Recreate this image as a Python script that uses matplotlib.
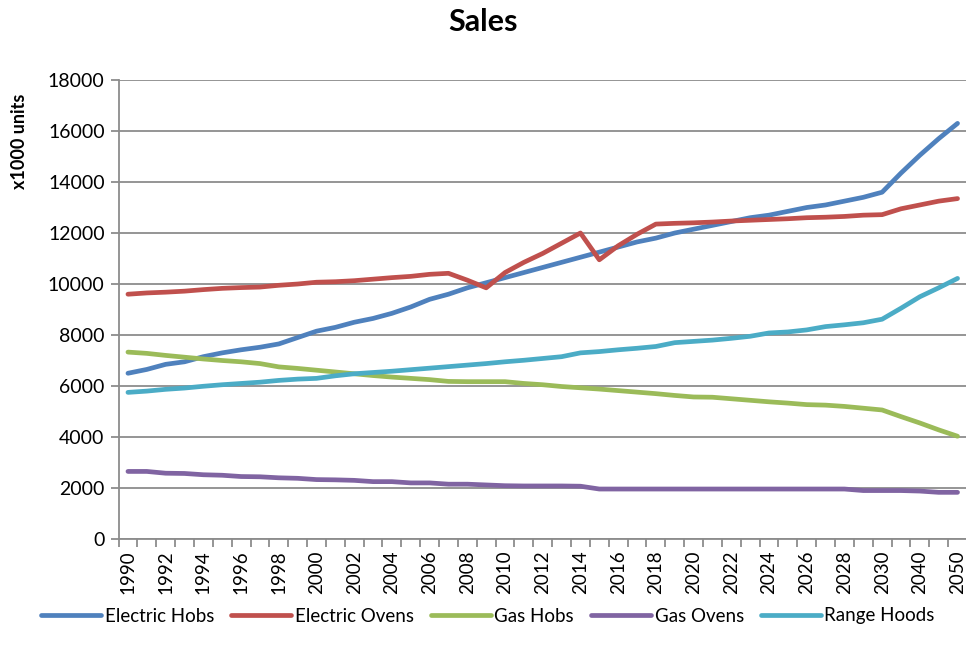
import numpy as np
import matplotlib
matplotlib.use("Agg")
import matplotlib.pyplot as plt

# categories: yearly to 2030, then 5-year steps
YEARS = list(range(1990, 2031)) + [2035, 2040, 2045, 2050]

electric_hobs = [6500, 6650, 6850, 6950, 7150, 7300, 7420, 7520, 7650, 7900,
                 8150, 8300, 8500, 8650, 8850, 9100, 9400, 9600, 9850, 10050,
                 10250, 10450, 10650, 10850, 11050, 11250, 11450, 11650, 11800, 12000,
                 12150, 12300, 12450, 12600, 12700, 12850, 13000, 13100, 13250, 13400,
                 13600, 14350, 15050, 15700, 16300]
electric_ovens = [9600, 9650, 9680, 9720, 9780, 9830, 9860, 9880, 9950, 10000,
                  10070, 10090, 10130, 10190, 10250, 10300, 10380, 10420, 10150, 9850,
                  10450, 10850, 11200, 11600, 12000, 10950, 11500, 11950, 12350, 12380,
                  12400, 12430, 12470, 12500, 12530, 12560, 12600, 12620, 12650, 12700,
                  12720, 12950, 13100, 13250, 13350]
gas_hobs = [7330, 7280, 7200, 7130, 7060, 7000, 6950, 6880, 6750, 6690,
            6620, 6550, 6480, 6410, 6350, 6300, 6250, 6180, 6170, 6170,
            6170, 6100, 6050, 5980, 5930, 5880, 5820, 5760, 5700, 5630,
            5570, 5560, 5500, 5440, 5380, 5330, 5270, 5250, 5200, 5130,
            5060, 4800, 4550, 4280, 4030]
gas_ovens = [2650, 2650, 2580, 2570, 2520, 2500, 2450, 2440, 2400, 2380,
             2330, 2320, 2300, 2250, 2250, 2200, 2200, 2150, 2150, 2120,
             2090, 2080, 2080, 2080, 2070, 1960, 1960, 1960, 1960, 1960,
             1960, 1960, 1960, 1960, 1960, 1960, 1960, 1960, 1960, 1900,
             1900, 1900, 1880, 1830, 1830]
range_hoods = [5750, 5800, 5870, 5920, 5990, 6050, 6100, 6150, 6220, 6270,
               6300, 6400, 6480, 6530, 6580, 6640, 6700, 6760, 6820, 6880,
               6950, 7010, 7080, 7150, 7300, 7350, 7420, 7480, 7550, 7700,
               7750, 7800, 7870, 7950, 8080, 8120, 8200, 8330, 8400, 8480,
               8620, 9050, 9500, 9850, 10220]

SERIES = [
    ("Electric Hobs", electric_hobs, "#4F81BD"),
    ("Electric Ovens", electric_ovens, "#C0504D"),
    ("Gas Hobs", gas_hobs, "#9BBB59"),
    ("Gas Ovens", gas_ovens, "#8064A2"),
    ("Range Hoods", range_hoods, "#4BACC6"),
]

plt.rcParams["font.family"] = ["Lato", "DejaVu Sans"]
GRID = "#8c8c8c"
TICK_FS = 14

fig = plt.figure(figsize=(9.66, 6.57), dpi=100)
ax = fig.add_axes([0.1227, 0.1796, 0.8783, 0.6986])

x = np.arange(len(YEARS))
for name, vals, col in SERIES:
    ax.plot(x, vals, color=col, lw=3.4, label=name,
            solid_capstyle="round", solid_joinstyle="round")

ax.set_xlim(-0.5, len(YEARS) - 0.5)
ax.set_ylim(0, 18000)
ax.set_yticks(np.arange(0, 18001, 2000))
ax.grid(axis="y", color=GRID, lw=1.3)
ax.set_axisbelow(True)

# tick marks on category boundaries, labels on every other category
ax.set_xticks(np.arange(-0.5, len(YEARS), 1))
ax.set_xticklabels([])
ax.set_xticks(x[::2], minor=True)
ax.set_xticklabels([str(YEARS[i]) for i in x[::2]], minor=True, rotation=90,
                   fontsize=13.5)
ax.tick_params(axis="x", which="minor", length=0, pad=8)
ax.tick_params(axis="x", which="major", length=6, color=GRID, width=1.3)
ax.tick_params(axis="y", length=6, color=GRID, width=1.3, labelsize=TICK_FS, pad=4)

for s in ["top", "right"]:
    ax.spines[s].set_visible(False)
for s in ["left", "bottom"]:
    ax.spines[s].set_color(GRID)
    ax.spines[s].set_linewidth(1.3)

fig.text(0.5, 1 - 22 / 657, "Sales", ha="center", va="center",
         fontsize=22, fontweight="bold")
fig.text(20 / 966, 1 - 141 / 657, "x1000 units", rotation=90, ha="center",
         va="center", fontsize=13, fontweight="bold")

fig.legend(loc="center", bbox_to_anchor=(0.505, 1 - 616 / 657), ncol=5,
           frameon=False, fontsize=13.5, handlelength=3.2, handletextpad=0.2,
           columnspacing=0.9)

fig.savefig("out.png", dpi=100, facecolor="white")
